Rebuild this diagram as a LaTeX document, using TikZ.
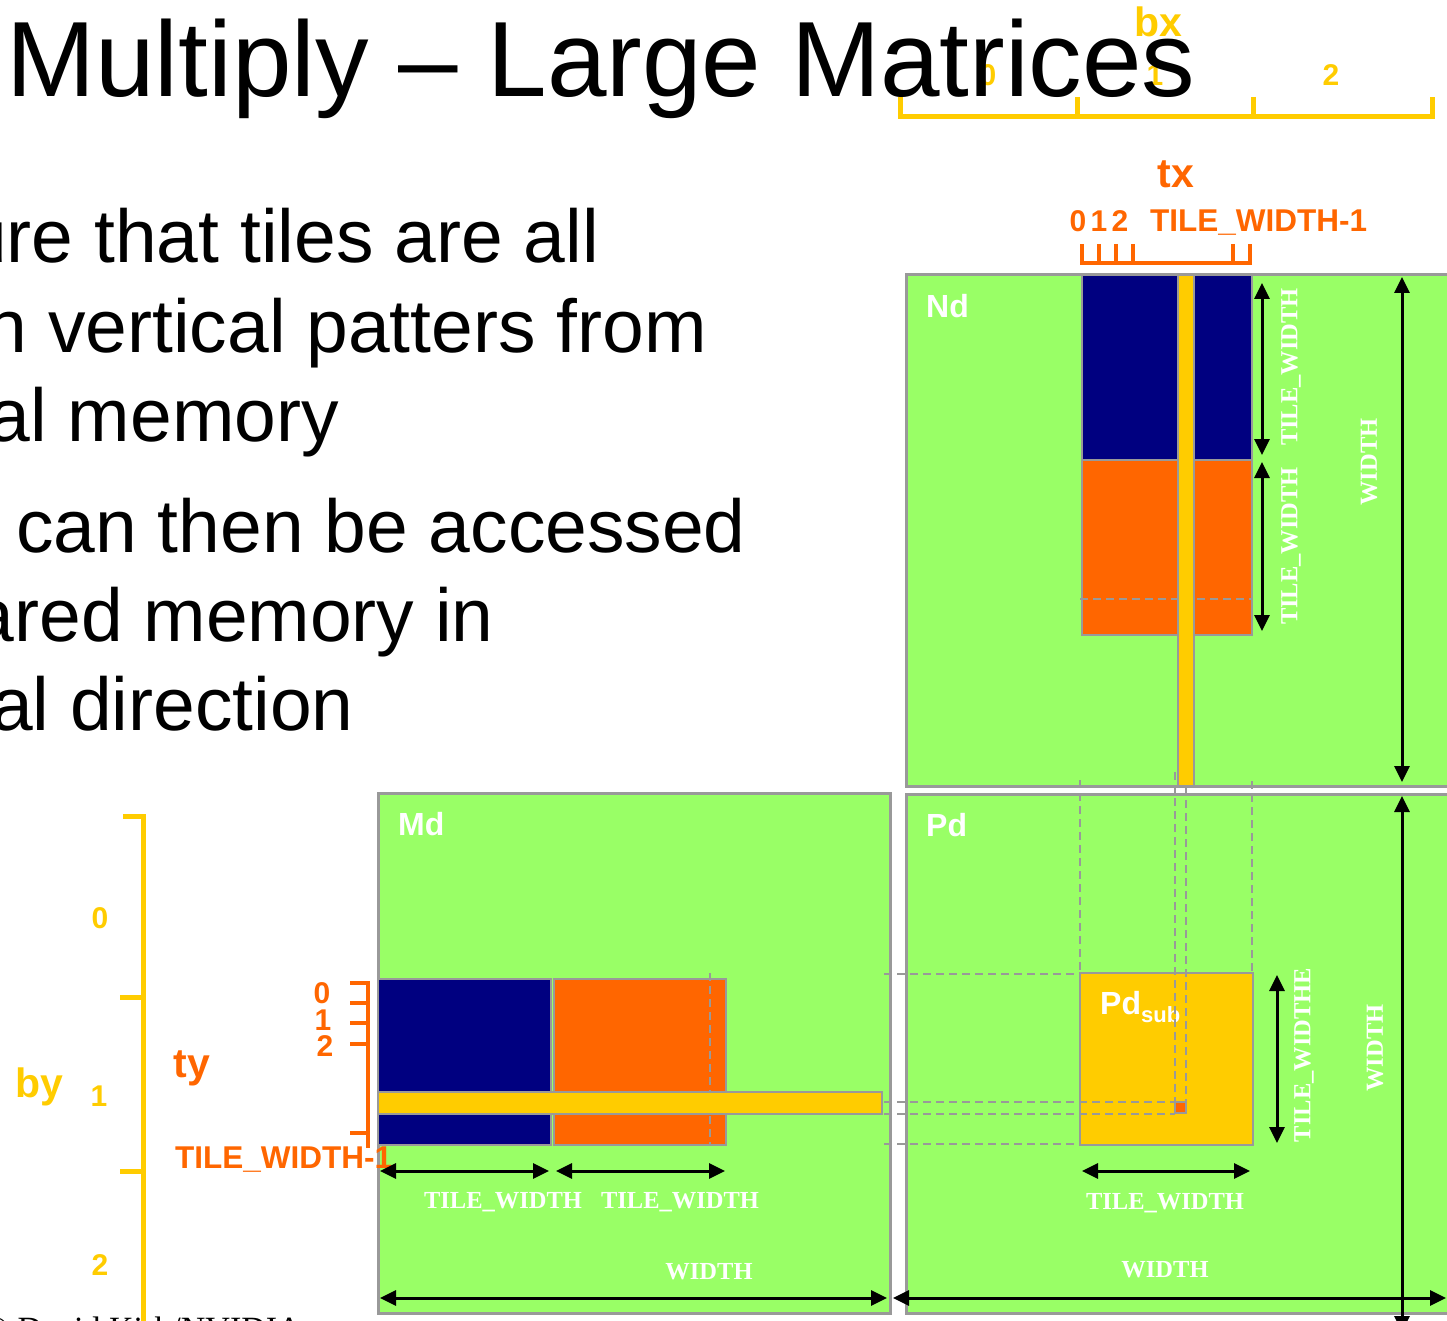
\documentclass[tikz,border=0pt]{standalone}
\usepackage{fontspec}
\setmainfont{Liberation Sans}
\newfontfamily\dimfont{Liberation Serif}
\usetikzlibrary{arrows.meta}

\definecolor{matgreen}{HTML}{99FF66}
\definecolor{edgegray}{HTML}{999999}
\definecolor{tileblue}{HTML}{000080}
\definecolor{tileorange}{HTML}{FF6600}
\definecolor{idxyellow}{HTML}{FFCC00}

\tikzset{
  matbox/.style={fill=matgreen, draw=edgegray, line width=3pt},
  tilebox/.style={draw=edgegray, line width=2.5pt},
  guide/.style={draw=edgegray, line width=2pt, dash pattern=on 8pt off 5pt},
  dimarrow/.style={line width=3pt,
    {Triangle[length=16pt,width=15pt]}-{Triangle[length=16pt,width=15pt]}},
  matlabel/.style={text=white, font=\fontsize{32}{32}\selectfont\bfseries,
    inner sep=0pt, anchor=base west},
  dimlabel/.style={text=white, font=\dimfont\fontsize{24.5}{24.5}\selectfont\bfseries,
    inner sep=0pt},
  yidx/.style={text=idxyellow, font=\fontsize{30}{30}\selectfont\bfseries,
    inner sep=0pt, anchor=base},
  oidx/.style={text=tileorange, font=\fontsize{30}{30}\selectfont\bfseries,
    inner sep=0pt, anchor=base},
  bigidx/.style={font=\fontsize{41}{41}\selectfont\bfseries, inner sep=0pt, anchor=base},
  ybracket/.style={draw=idxyellow, line width=5pt},
  obracket/.style={draw=tileorange, line width=4.5pt},
  bodytext/.style={font=\fontsize{75}{75}\selectfont, inner sep=0pt, anchor=base east},
}

\begin{document}
\begin{tikzpicture}[x=1pt,y=-1pt]
\useasboundingbox (0,0) rectangle (1447,1321);
\clip (0,0) rectangle (1447,1321);

% ---- bullet text ----
\node[bodytext] (t1) at (599,263) {ure that tiles are all};
\node[bodytext] (t2) at (707,352) {n vertical patters from};
\node[bodytext] (t3) at (339,441) {al memory};
\node[bodytext] (t4) at (746,552) {can then be accessed};
\node[bodytext] (t5) at (494,641) {ared memory in};
\node[bodytext] (t6) at (354,730) {al direction};

% ---- footer ----
\node[font=\dimfont\fontsize{34}{34}\selectfont, inner sep=0pt, anchor=base west]
  (foot) at (-17,1340) {© David Kirk/NVIDIA};

% ---- block index bx ----
\draw[ybracket] (900,97) -- (900,117) -- (1432,117) -- (1432,97);
\draw[ybracket] (1077,97) -- (1077,117);
\draw[ybracket] (1253,97) -- (1253,117);
\node[bigidx, text=idxyellow] (bx) at (1158,37) {bx};
\node[yidx] (bx0) at (988,86) {0};
\node[yidx] (bx1) at (1155,86) {1};
\node[yidx] (bx2) at (1331,86) {2};

% ---- thread index tx ----
\node[bigidx, text=tileorange] (tx) at (1176,188) {tx};
\node[oidx] (tx0) at (1078,232) {0};
\node[oidx] (tx1) at (1099,232) {1};
\node[oidx] (tx2) at (1120,232) {2};
\node[text=tileorange, font=\fontsize{31.5}{31.5}\selectfont\bfseries, inner sep=0pt,
      anchor=base west] (txlast) at (1150,232) {TILE\_WIDTH-1};
\draw[obracket] (1082,244) -- (1082,263) -- (1250,263) -- (1250,244);
\foreach \xx in {1099,1116,1133,1233}
  \draw[obracket] (\xx,244) -- (\xx,263);

% ---- block index by ----
\draw[ybracket] (123,816) -- (143,816) -- (143,1330);
\draw[ybracket] (120,997) -- (143,997);
\draw[ybracket] (120,1171) -- (143,1171);
\node[bigidx, text=idxyellow] (by) at (39,1097) {by};
\node[yidx] (by0) at (100,928) {0};
\node[yidx] (by1) at (99,1106) {1};
\node[yidx] (by2) at (100,1275) {2};

% ---- thread index ty ----
\node[bigidx, text=tileorange] (ty) at (192,1077) {ty};
\node[oidx] (ty0) at (322,1003) {0};
\node[oidx] (ty1) at (323,1030) {1};
\node[oidx] (ty2) at (325,1056) {2};
\draw[obracket] (350,983) -- (368,983) -- (368,1148);
\foreach \yy in {1003,1023,1044,1133}
  \draw[obracket] (350,\yy) -- (368,\yy);

% ---- Nd ----
\draw[matbox] (906,275) rectangle (1470,786);
\draw[tilebox, fill=tileblue] (1082,275) rectangle (1252,460);
\draw[tilebox, fill=tileorange] (1082,460) rectangle (1252,635);
\draw[guide] (1080,599) -- (1252,599);
\draw[tilebox, fill=idxyellow] (1178,275) rectangle (1194,786);
\node[matlabel] (ndlbl) at (926,317) {Nd};

\coordinate (ndA) at (1262,283);
\coordinate (ndB) at (1262,455);
\coordinate (ndC) at (1262,462);
\coordinate (ndD) at (1262,631);
\coordinate (ndE) at (1402,277);
\coordinate (ndF) at (1402,782);
\draw[dimarrow] (ndA) -- (ndB);
\draw[dimarrow] (ndC) -- (ndD);
\draw[dimarrow] (ndE) -- (ndF);
\node[dimlabel, rotate=90] (ndtw1) at (1291,367) {TILE\_WIDTH};
\node[dimlabel, rotate=90] (ndtw2) at (1291,546) {TILE\_WIDTH};
\node[dimlabel, rotate=90] (ndw) at (1369,462) {WIDTH};

% ---- Md ----
\draw[matbox] (378,793) rectangle (890,1313);
\draw[tilebox, fill=tileblue] (378,979) rectangle (551,1145);
\draw[tilebox, fill=tileorange] (554,979) rectangle (726,1145);
\draw[guide] (710,973) -- (710,1145);
\draw[tilebox, fill=idxyellow] (378,1092) rectangle (882,1114);
\node[matlabel] (mdlbl) at (398,835) {Md};
\node[text=tileorange, font=\fontsize{31.5}{31.5}\selectfont\bfseries, inner sep=0pt,
      anchor=base west] (tylast) at (175,1168) {TILE\_WIDTH-1};

\coordinate (mdA) at (380,1171);
\coordinate (mdB) at (549,1171);
\coordinate (mdC) at (556,1171);
\coordinate (mdD) at (725,1171);
\coordinate (mdE) at (380,1298);
\coordinate (mdF) at (887,1298);
\draw[dimarrow] (mdA) -- (mdB);
\draw[dimarrow] (mdC) -- (mdD);
\draw[dimarrow] (mdE) -- (mdF);
\node[dimlabel] (mdtw1) at (503,1202) {TILE\_WIDTH};
\node[dimlabel] (mdtw2) at (680,1202) {TILE\_WIDTH};
\node[dimlabel] (mdw) at (709,1272) {WIDTH};

% ---- Pd ----
\draw[matbox] (906,794) rectangle (1470,1313);
\draw[tilebox, fill=idxyellow] (1080,973) rectangle (1253,1145);
\node[matlabel] (pdlbl) at (926,836) {Pd};
\node[matlabel] (pdsub) at (1100,1014)
  {Pd\raisebox{-8pt}{\fontsize{22}{22}\selectfont sub}};

% projection guides
\draw[guide] (1080,780) -- (1080,973);
\draw[guide] (1252,781) -- (1252,973);
\draw[guide] (1175,772) -- (1175,1102);
\draw[guide] (1186,787) -- (1186,1102);
\draw[guide] (884,974) -- (1080,974);
\draw[guide] (884,1102) -- (1175,1102);
\draw[guide] (884,1114) -- (1175,1114);
\draw[guide] (884,1144) -- (1080,1144);
\draw[draw=edgegray, line width=2pt, fill=tileorange] (1175,1102) rectangle (1186,1113);

\coordinate (pdA) at (1277,975);
\coordinate (pdB) at (1277,1143);
\coordinate (pdC) at (1082,1171);
\coordinate (pdD) at (1250,1171);
\coordinate (pdE) at (893,1298);
\coordinate (pdF) at (1446,1298);
\coordinate (pdG) at (1402,796);
\coordinate (pdH) at (1402,1332);
\draw[dimarrow] (pdA) -- (pdB);
\draw[dimarrow] (pdC) -- (pdD);
\draw[dimarrow] (pdE) -- (pdF);
\draw[dimarrow] (pdG) -- (pdH);
\node[dimlabel, rotate=90] (pdtw1) at (1304,1055) {TILE\_WIDTHE};
\node[dimlabel] (pdtw2) at (1165,1203) {TILE\_WIDTH};
\node[dimlabel] (pdw1) at (1165,1270) {WIDTH};
\node[dimlabel, rotate=90] (pdw2) at (1375,1048) {WIDTH};

% ---- title ----
\node[font=\fontsize{107}{107}\selectfont, inner sep=0pt, anchor=base west]
  (title) at (6,97) {Multiply \textendash{} Large Matrices};
\end{tikzpicture}
\end{document}
